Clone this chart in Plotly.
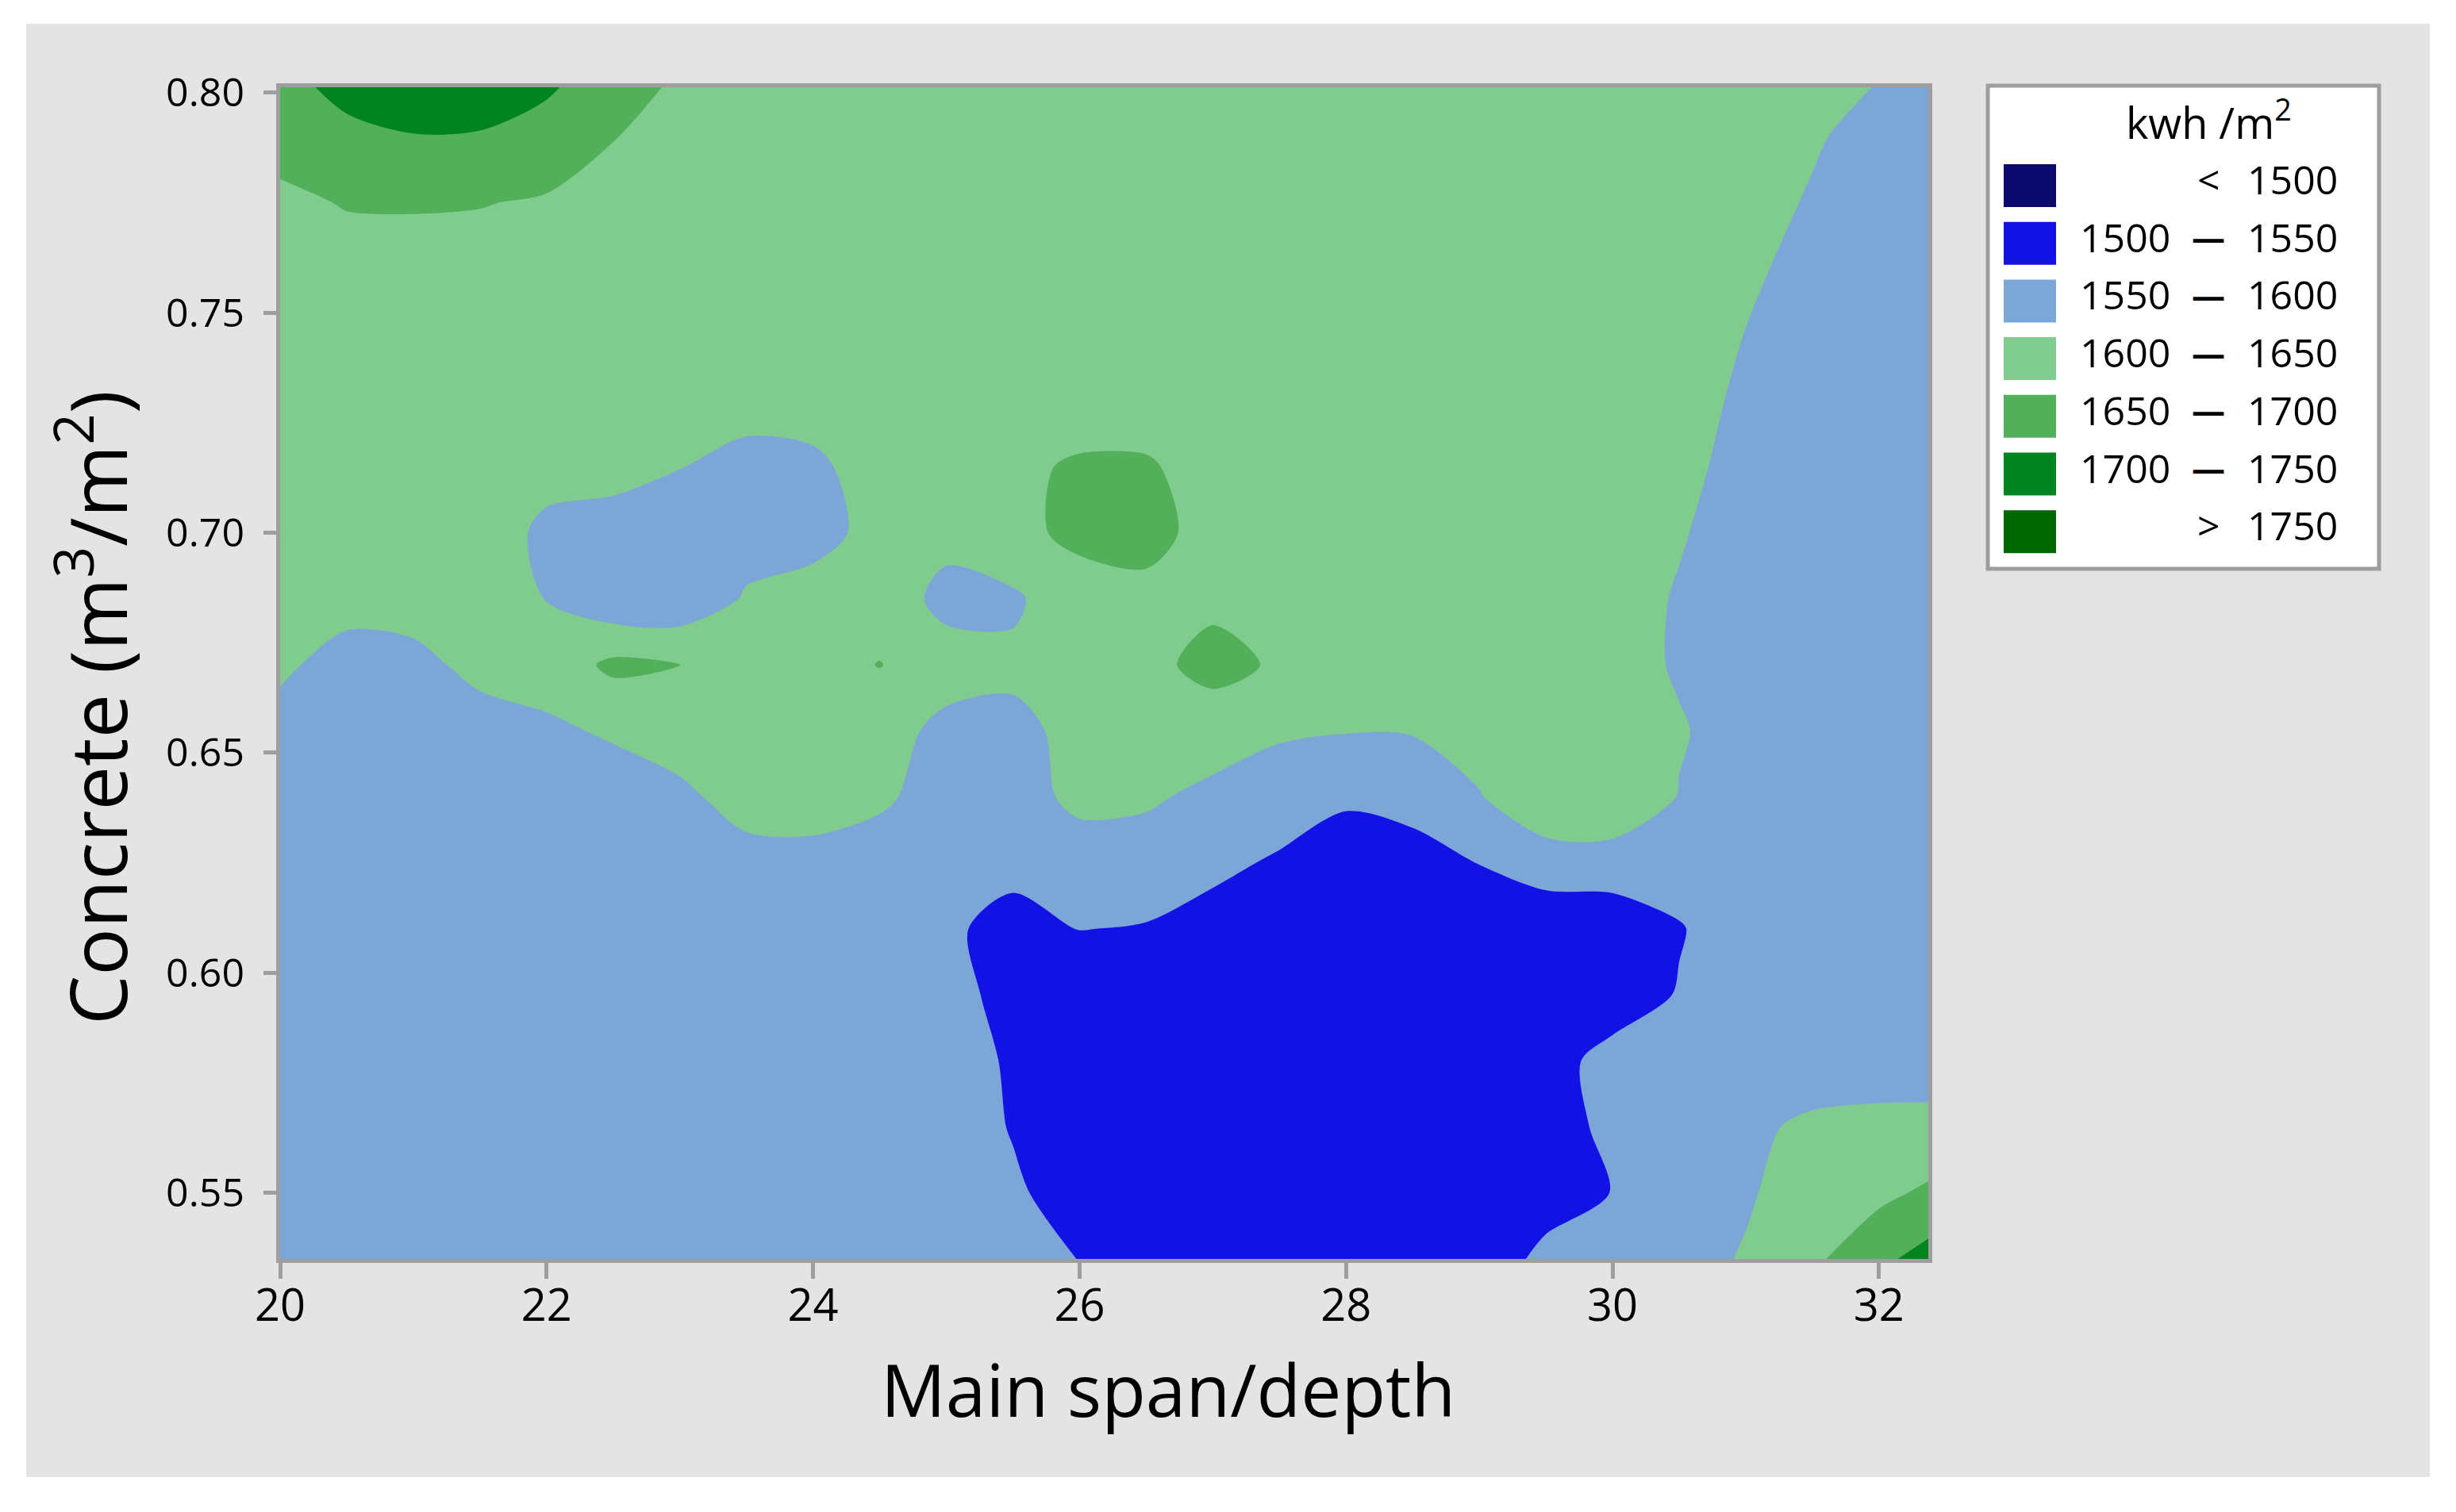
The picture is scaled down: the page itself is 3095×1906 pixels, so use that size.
import plotly.graph_objects as go

# grid of the contour surface: main span/depth ratio (x) and concrete volume in m3/m2 (y)
span_ratio = [20.0, 20.5, 21.0, 21.5, 22.0, 22.5, 23.0, 23.5, 24.0, 24.5, 25.0, 25.5, 26.0,
              26.5, 27.0, 27.5, 28.0, 28.5, 29.0, 29.5, 30.0, 30.5, 31.0, 31.5, 32.0, 32.5]
concrete = [0.535, 0.550, 0.565, 0.580, 0.595, 0.610, 0.625, 0.640, 0.655, 0.670,
            0.685, 0.700, 0.715, 0.730, 0.745, 0.760, 0.775, 0.790, 0.805]

# embodied energy, kwh/m2 (one row per concrete value, bottom row first)
energy = [
    [1580, 1581, 1579, 1578, 1577, 1578, 1579, 1580, 1579, 1580, 1590, 1590, 1548, 1520, 1515, 1512, 1512, 1520, 1522, 1562, 1570, 1587, 1603, 1640, 1688, 1731],
    [1580, 1580, 1578, 1577, 1577, 1578, 1578, 1579, 1580, 1582, 1590, 1560, 1520, 1512, 1508, 1506, 1508, 1512, 1520, 1530, 1551, 1573, 1596, 1617, 1638, 1666],
    [1579, 1578, 1577, 1576, 1577, 1577, 1578, 1578, 1579, 1581, 1585, 1546, 1516, 1512, 1510, 1510, 1511, 1513, 1515, 1535, 1558, 1574, 1590, 1609, 1615, 1616],
    [1578, 1577, 1576, 1576, 1576, 1577, 1577, 1578, 1578, 1578, 1579, 1542, 1512, 1510, 1508, 1508, 1509, 1511, 1515, 1532, 1566, 1580, 1578, 1573, 1573, 1573],
    [1577, 1576, 1576, 1575, 1576, 1576, 1577, 1577, 1577, 1576, 1568, 1533, 1512, 1508, 1505, 1504, 1506, 1510, 1515, 1522, 1525, 1553, 1575, 1580, 1582, 1584],
    [1576, 1576, 1575, 1575, 1575, 1576, 1577, 1578, 1577, 1572, 1556, 1538, 1551, 1547, 1532, 1515, 1510, 1512, 1520, 1515, 1518, 1547, 1575, 1580, 1582, 1583],
    [1576, 1575, 1575, 1576, 1577, 1577, 1580, 1587, 1588, 1580, 1565, 1560, 1582, 1577, 1561, 1544, 1525, 1532, 1551, 1575, 1577, 1571, 1578, 1580, 1582, 1583],
    [1575, 1576, 1576, 1578, 1576, 1580, 1592, 1615, 1617, 1607, 1582, 1584, 1609, 1607, 1588, 1575, 1557, 1566, 1597, 1640, 1640, 1598, 1575, 1575, 1576, 1577],
    [1588, 1576, 1575, 1585, 1593, 1605, 1618, 1625, 1625, 1614, 1591, 1588, 1613, 1632, 1624, 1606, 1602, 1603, 1622, 1625, 1625, 1604, 1580, 1575, 1575, 1576],
    [1606, 1587, 1590, 1610, 1618, 1661, 1651, 1625, 1625, 1652, 1615, 1610, 1631, 1637, 1665, 1644, 1625, 1625, 1625, 1625, 1620, 1595, 1575, 1575, 1575, 1575],
    [1625, 1612, 1615, 1622, 1599, 1563, 1563, 1605, 1615, 1620, 1590, 1592, 1633, 1640, 1640, 1634, 1625, 1625, 1625, 1625, 1621, 1596, 1575, 1575, 1575, 1575],
    [1625, 1625, 1625, 1618, 1593, 1586, 1575, 1580, 1587, 1612, 1610, 1640, 1659, 1662, 1637, 1628, 1625, 1625, 1625, 1625, 1625, 1604, 1578, 1575, 1575, 1575],
    [1625, 1625, 1625, 1625, 1611, 1611, 1601, 1589, 1592, 1618, 1626, 1642, 1655, 1655, 1632, 1625, 1625, 1625, 1625, 1625, 1625, 1611, 1586, 1575, 1575, 1575],
    [1626, 1627, 1628, 1628, 1627, 1626, 1625, 1613, 1617, 1625, 1626, 1627, 1630, 1628, 1626, 1627, 1628, 1629, 1629, 1628, 1626, 1617, 1592, 1575, 1576, 1577],
    [1627, 1628, 1629, 1630, 1630, 1629, 1628, 1627, 1627, 1628, 1629, 1630, 1631, 1631, 1630, 1630, 1631, 1632, 1631, 1630, 1628, 1624, 1599, 1576, 1576, 1577],
    [1629, 1630, 1631, 1631, 1631, 1630, 1629, 1628, 1628, 1629, 1630, 1631, 1632, 1632, 1632, 1631, 1632, 1633, 1632, 1631, 1629, 1627, 1609, 1584, 1576, 1577],
    [1639, 1653, 1654, 1652, 1645, 1629, 1628, 1629, 1630, 1630, 1631, 1632, 1633, 1633, 1633, 1632, 1632, 1633, 1632, 1631, 1629, 1627, 1620, 1595, 1577, 1577],
    [1670, 1691, 1699, 1698, 1681, 1652, 1627, 1628, 1629, 1630, 1631, 1632, 1633, 1633, 1633, 1633, 1632, 1632, 1631, 1630, 1629, 1627, 1625, 1606, 1581, 1578],
    [1693, 1717, 1721, 1720, 1715, 1678, 1648, 1630, 1630, 1631, 1632, 1633, 1634, 1634, 1634, 1633, 1633, 1632, 1632, 1631, 1630, 1629, 1628, 1626, 1603, 1578],
]

x_ticks = [20, 22, 24, 26, 28, 30, 32]
y_ticks = [0.55, 0.60, 0.65, 0.70, 0.75, 0.80]

# legend bands
band_colors = ["#0B0A6C", "#1212E4", "#7DA6D8", "#80CC8E", "#52AF5A", "#00841F", "#006600"]
band_low = ["", "1500", "1550", "1600", "1650", "1700", ""]
band_sep = ["<", "\u2014", "\u2014", "\u2014", "\u2014", "\u2014", ">"]
band_high = ["1500", "1550", "1600", "1650", "1700", "1750", "1750"]

FONT = "Open Sans, Noto Sans, sans-serif"
W, H = 3095, 1906
L, R, T, B = 353, 2430, 110, 1587   # plot area in pixels


def px(x):
    return (x - L) / (R - L)


def py(y):
    return (B - y) / (B - T)


# stepped colorscale, one flat colour per band
n = len(band_colors)
scale = []
for i, c in enumerate(band_colors):
    lo = max(0.0, (2 * i - 1) / (2 * (n - 1)))
    hi = min(1.0, (2 * i + 1) / (2 * (n - 1)))
    scale += [[lo, c], [hi, c]]

fig = go.Figure()
fig.add_trace(go.Contour(
    x=span_ratio, y=concrete, z=energy,
    autocontour=False,
    contours=dict(start=1500, end=1750, size=50, coloring="fill", showlines=False),
    colorscale=scale, showscale=False,
    line=dict(width=0, smoothing=0.85),
    hoverinfo="skip",
))

shapes = [
    # grey panel behind the chart
    dict(type="rect", xref="paper", yref="paper", layer="below",
         x0=px(33), x1=px(3062), y0=py(1862), y1=py(30),
         fillcolor="#E4E4E4", line=dict(width=0)),
    # legend box
    dict(type="rect", xref="paper", yref="paper",
         x0=px(2505), x1=px(2998), y0=py(717), y1=py(108),
         fillcolor="white", line=dict(color="#9E9E9E", width=5)),
]

annotations = [
    dict(text="Main span/depth", x=px(1472), y=py(1751), xref="paper", yref="paper",
         showarrow=False, xanchor="center", yanchor="middle",
         font=dict(family=FONT, size=91, color="black")),
    dict(text="Concrete (m<sup>3</sup>/m<sup>2</sup>)", x=px(116), y=py(892),
         xref="paper", yref="paper", showarrow=False, textangle=-90,
         xanchor="center", yanchor="middle",
         font=dict(family=FONT, size=99, color="black")),
    dict(text="kwh /m<sup>2</sup>", x=px(2783), y=py(152), xref="paper", yref="paper",
         showarrow=False, xanchor="center", yanchor="middle",
         font=dict(family=FONT, size=54, color="black")),
]

row_y = 234
for i in range(n):
    yc = row_y + i * 72.7
    yt = yc - 8
    shapes.append(dict(type="rect", xref="paper", yref="paper",
                       x0=px(2525), x1=px(2591), y0=py(yc + 27), y1=py(yc - 27),
                       fillcolor=band_colors[i], line=dict(width=0)))
    if band_low[i]:
        annotations.append(dict(text=band_low[i], x=px(2737), y=py(yt), xref="paper", yref="paper",
                                showarrow=False, xanchor="right", yanchor="middle",
                                font=dict(family=FONT, size=50, color="black")))
    sep = "<b>%s</b>" % band_sep[i] if band_sep[i] == "\u2014" else band_sep[i]
    annotations.append(dict(text=sep, x=px(2783), y=py(yt), xref="paper", yref="paper",
                            showarrow=False, xanchor="center", yanchor="middle",
                            font=dict(family=FONT, size=42 if band_sep[i] == "\u2014" else 50,
                                      color="black")))
    annotations.append(dict(text=band_high[i], x=px(2948), y=py(yt), xref="paper", yref="paper",
                            showarrow=False, xanchor="right", yanchor="middle",
                            font=dict(family=FONT, size=50, color="black")))

fig.update_layout(
    width=W, height=H,
    margin=dict(l=L, r=W - R, t=T, b=H - B, pad=0),
    paper_bgcolor="white", plot_bgcolor="white",
    shapes=shapes, annotations=annotations,
    showlegend=False,
    font=dict(family=FONT, color="black"),
)
fig.update_xaxes(
    range=[20, 32.37], tickvals=x_ticks, ticktext=[str(v) for v in x_ticks],
    ticks="outside", ticklen=20, tickwidth=5, tickcolor="#9E9E9E",
    showline=True, linecolor="#9E9E9E", linewidth=5, mirror=True,
    showgrid=False, zeroline=False, ticklabelstandoff=-14,
    tickfont=dict(family=FONT, size=56, color="black"),
)
fig.update_yaxes(
    range=[0.535, 0.8012], tickvals=y_ticks, ticktext=["%.2f" % v for v in y_ticks],
    ticks="outside", ticklen=16, tickwidth=5, tickcolor="#9E9E9E",
    showline=True, linecolor="#9E9E9E", linewidth=5, mirror=True,
    showgrid=False, zeroline=False, ticklabelstandoff=14,
    tickfont=dict(family=FONT, size=50, color="black"),
)

fig.write_html("out.html", config={"displayModeBar": False},
               post_script="document.body.style.margin='0';")
